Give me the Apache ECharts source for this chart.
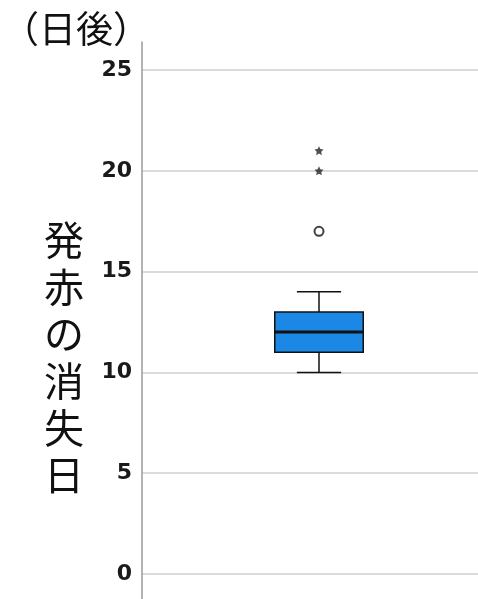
<!DOCTYPE html>
<html>
<head>
<meta charset="utf-8">
<script src="https://cdn.jsdelivr.net/npm/echarts@6/dist/echarts.min.js"></script>
<style>
html, body { margin: 0; padding: 0; background: #fff; }
#main { width: 478px; height: 599px; }
</style>
</head>
<body>
<div id="main"></div>
<script>
// 箱ひげ図のデータ
var categories = ['全体'];
// [最小, 第1四分位, 中央値, 第3四分位, 最大]
var boxStats = [[10, 11, 12, 13, 14]];
var outlierCircle = [17];        // 外れ値 (○)
var outlierStar = [20, 21];      // 極値 (＊)
var yTicks = [0, 5, 10, 15, 20, 25];

var myChart = echarts.init(document.getElementById('main'));

var boxData = boxStats.map(function (s, i) {
    return [i].concat(s);
});

var option = {
    backgroundColor: '#fff',
    animation: false,
    graphic: [{
        type: 'text',
        left: 2,
        top: 10,
        style: {
            text: '（日後）',
            font: '37px "Noto Sans CJK JP"',
            fill: '#111'
        }
    }, {
        type: 'text',
        x: 64,
        y: 357,
        style: {
            text: '発\n赤\nの\n消\n失\n日',
            font: '40px "Noto Sans CJK JP"',
            lineHeight: 47,
            fill: '#111',
            align: 'center',
            verticalAlign: 'middle'
        }
    }],
    grid: [
        { left: 142, width: 354, top: 70, height: 504, outerBoundsMode: 'none' },
        { left: 142, right: 0, top: 42, bottom: 0, outerBoundsMode: 'none' }
    ],
    xAxis: [{
        type: 'category',
        data: categories,
        gridIndex: 0,
        axisLine: { show: false },
        axisTick: { show: false },
        axisLabel: { show: false },
        splitLine: { show: false }
    }, {
        type: 'value',
        gridIndex: 1,
        show: false
    }],
    yAxis: [{
        type: 'value',
        gridIndex: 0,
        min: yTicks[0],
        max: yTicks[yTicks.length - 1],
        interval: 5,
        axisLine: { show: false },
        axisTick: { show: false },
        axisLabel: {
            margin: 10,
            fontSize: 22,
            fontWeight: 'bold',
            fontFamily: '"DejaVu Sans", sans-serif',
            color: '#1a1a1a'
        },
        splitLine: {
            show: true,
            lineStyle: { color: '#cfcfcf', width: 1.5 }
        }
    }, {
        type: 'value',
        gridIndex: 1,
        min: 0,
        max: 1,
        axisLine: { show: true, lineStyle: { color: '#9a9a9a', width: 1.5 } },
        axisTick: { show: false },
        axisLabel: { show: false },
        splitLine: { show: false }
    }],
    series: [{
        type: 'custom',
        xAxisIndex: 0,
        yAxisIndex: 0,
        clip: false,
        data: boxData,
        renderItem: function (params, api) {
            var x = api.value(0);
            var lo = api.coord([x, api.value(1)]);
            var q1 = api.coord([x, api.value(2)]);
            var med = api.coord([x, api.value(3)]);
            var q3 = api.coord([x, api.value(4)]);
            var hi = api.coord([x, api.value(5)]);
            var band = api.size([1, 0])[0];
            var bw = band * 0.25;
            var cw = bw * 0.5;
            var cx = lo[0];
            var lineStyle = { stroke: '#111', lineWidth: 1.5 };
            return {
                type: 'group',
                children: [{
                    type: 'line',
                    shape: { x1: cx, y1: hi[1], x2: cx, y2: q3[1] },
                    style: lineStyle
                }, {
                    type: 'line',
                    shape: { x1: cx, y1: q1[1], x2: cx, y2: lo[1] },
                    style: lineStyle
                }, {
                    type: 'line',
                    shape: { x1: cx - cw / 2, y1: hi[1], x2: cx + cw / 2, y2: hi[1] },
                    style: lineStyle
                }, {
                    type: 'line',
                    shape: { x1: cx - cw / 2, y1: lo[1], x2: cx + cw / 2, y2: lo[1] },
                    style: lineStyle
                }, {
                    type: 'rect',
                    shape: { x: cx - bw / 2, y: q3[1], width: bw, height: q1[1] - q3[1] },
                    style: { fill: '#1c88e5', stroke: '#111', lineWidth: 1.5 }
                }, {
                    type: 'line',
                    shape: { x1: cx - bw / 2, y1: med[1], x2: cx + bw / 2, y2: med[1] },
                    style: { stroke: '#111', lineWidth: 3 }
                }]
            };
        }
    }, {
        type: 'scatter',
        xAxisIndex: 0,
        yAxisIndex: 0,
        symbol: 'circle',
        symbolSize: 9,
        itemStyle: { color: '#fff', borderColor: '#111', borderWidth: 2 },
        data: outlierCircle.map(function (v) { return [0, v]; })
    }, {
        type: 'scatter',
        xAxisIndex: 0,
        yAxisIndex: 0,
        symbol: 'path://M0,-10 L2.9,-4 9.5,-3.1 4.8,1.5 5.9,8.1 0,5 -5.9,8.1 -4.8,1.5 -9.5,-3.1 -2.9,-4 Z',
        symbolSize: 9,
        itemStyle: { color: '#222' },
        data: outlierStar.map(function (v) { return [0, v]; })
    }]
};

myChart.setOption(option);
</script>
</body>
</html>
